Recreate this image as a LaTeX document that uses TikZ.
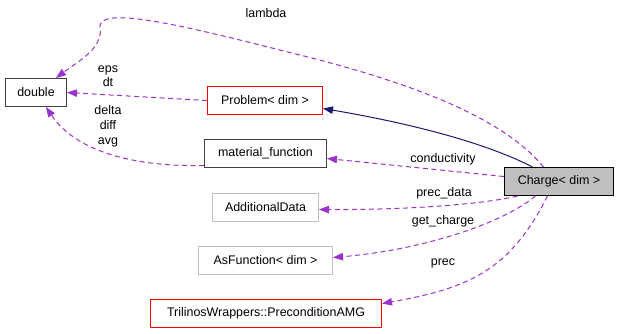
\documentclass[tikz,border=0pt]{standalone}
\usepackage{fontspec}
\setmainfont{Liberation Sans}
\usetikzlibrary{arrows.meta,calc}
\definecolor{edgepurple}{HTML}{9A32CD}
\definecolor{inhblue}{HTML}{191970}
\definecolor{boxgray}{HTML}{BFBFBF}
\definecolor{boxdark}{HTML}{404040}
\tikzset{
  x=1bp, y=-1bp,
  every node/.style={font=\fontsize{12.5}{15}\selectfont, inner sep=0pt},
  cls/.style={draw=boxdark, line width=1bp, rectangle, minimum height=28bp, anchor=north west},
  redcls/.style={cls, draw=red},
  graycls/.style={cls, draw=boxgray},
  cur/.style={cls, fill=boxgray, draw=black},
  uses/.style={draw=edgepurple, line width=1bp, dash pattern=on 5bp off 3.5bp,
    -{Triangle[length=10bp,width=7.5bp,fill=edgepurple,sharp]}},
  inherits/.style={draw=inhblue, line width=1bp,
    -{Triangle[length=10bp,width=7.5bp,fill=inhblue,sharp]}},
  lbl/.style={align=center}
}
\begin{document}
\begin{tikzpicture}
\useasboundingbox (0,0) rectangle (619,333);

% classes
\node[cls, minimum width=61bp]     (double)  at (5,78)    {double};
\node[redcls, minimum width=115bp] (problem) at (207,86)  {Problem< dim >};
\node[cls, minimum width=122bp]    (matfun)  at (204,139) {material\_function};
\node[cur, minimum width=109bp]    (charge)  at (504,167) {Charge< dim >};
\node[graycls, minimum width=106bp](adddata) at (212,193) {AdditionalData};
\node[graycls, minimum width=134bp](asfun)   at (198,246) {AsFunction< dim >};
\node[redcls, minimum width=231bp] (amg)     at (150,299) {TrilinosWrappers::PreconditionAMG};

% anchor points on the Charge box
\coordinate (cTopA) at ($(charge.north)+(-15.5,0)$);
\coordinate (cTopB) at ($(charge.north)+(-26.5,0)$);
\coordinate (cBotA) at ($(charge.south)+(-41.5,0)$);
\coordinate (cBotB) at ($(charge.south)+(-23.5,0)$);
\coordinate (cBotC) at ($(charge.south)+(-11.5,0)$);

% members
\draw[uses] (cTopA) .. controls (505,120) and (420,85) .. (300,55)
  .. controls (200,30) and (105,5) .. (100,25)
  .. controls (104,48) and (80,60) .. ($(double.north)+(20,0)$);
\draw[uses] (problem.west) -- (double.east);
\draw[uses] ($(matfun.west)+(0,12)$) .. controls (130,167) and (75,150) .. ($(double.south)+(10,0)$);
\draw[uses] ($(charge.west)+(0,-5)$) -- ($(matfun.east)+(0,5)$);
\draw[uses] (cBotA) .. controls (480,205) and (400,210) .. ($(adddata.east)+(0,2)$);
\draw[uses] (cBotB) .. controls (500,225) and (420,250) .. ($(asfun.east)+(0,-3)$);
\draw[uses] (cBotC) .. controls (510,270) and (470,288) .. ($(amg.east)+(0,-10)$);

% base class
\draw[inherits] (cTopB) .. controls (490,145) and (420,125) .. ($(problem.east)+(0,8)$);

% member labels
\node[lbl] (lLambda) at (266,13)  {lambda};
\node[lbl] (lEps)    at (108,76)  {eps\\[-1.5bp]dt};
\node[lbl] (lDelta)  at (108,126) {delta\\[0bp]diff\\[0bp]avg};
\node[lbl] (lCond)   at (443,159) {conductivity};
\node[lbl] (lPdata)  at (444,193) {prec\_data};
\node[lbl] (lGet)    at (443,221) {get\_charge};
\node[lbl] (lPrec)   at (443,263) {prec};
\end{tikzpicture}
\end{document}
